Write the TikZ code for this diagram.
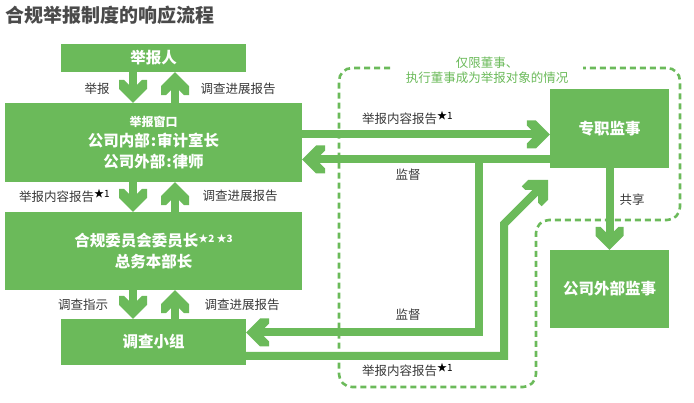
\documentclass[tikz,border=0pt]{standalone}
\usepackage{fontspec}
\setmainfont{Noto Sans CJK SC}
\usetikzlibrary{arrows.meta}
\definecolor{gr}{HTML}{6BBA5A}
\definecolor{tx}{HTML}{383838}
\definecolor{ttl}{HTML}{4A4A4A}
\pgfdeclarearrow{
  name = Chev,
  setup code = {
    \pgfarrowssettipend{0pt}
    \pgfarrowssetlineend{-17pt}
    \pgfarrowssetvisualbackend{-23pt}
    \pgfarrowssetbackend{-23pt}
    \pgfarrowshullpoint{0pt}{0pt}
    \pgfarrowshullpoint{-23pt}{14pt}
    \pgfarrowshullpoint{-23pt}{-14pt}
  },
  drawing code = {
    \pgfpathmoveto{\pgfqpoint{0pt}{0pt}}
    \pgfpathlineto{\pgfqpoint{-14pt}{14pt}}
    \pgfpathlineto{\pgfqpoint{-23pt}{14pt}}
    \pgfpathlineto{\pgfqpoint{-23pt}{9pt}}
    \pgfpathlineto{\pgfqpoint{-18pt}{4pt}}
    \pgfpathlineto{\pgfqpoint{-18pt}{-4pt}}
    \pgfpathlineto{\pgfqpoint{-23pt}{-9pt}}
    \pgfpathlineto{\pgfqpoint{-23pt}{-14pt}}
    \pgfpathlineto{\pgfqpoint{-14pt}{-14pt}}
    \pgfpathclose
    \pgfusepathqfill
  }
}
\newcommand{\stsup}[1]{\raisebox{4pt}{\fontsize{10}{10}\selectfont #1}}
\begin{document}
\begin{tikzpicture}[x=1pt,y=-1pt,
  box/.style={fill=gr, draw=none, text=white, font=\bfseries\fontsize{15.5}{20.5}\selectfont, align=center, inner sep=0pt},
  lbl/.style={text=tx, font=\fontsize{12.5}{14}\selectfont, inner sep=0pt},
  note/.style={text=gr, font=\fontsize{12.5}{15}\selectfont, inner sep=0pt, align=center},
  conn/.style={draw=gr, line width=8pt, -{Chev}, line join=miter},
  zone/.style={draw=gr, line width=2.6pt, dash pattern=on 6pt off 4pt, rounded corners=13pt},
]
\useasboundingbox (0,0) rectangle (694,403);
% title
\node[anchor=west, text=ttl, font=\bfseries\fontsize{19}{22}\selectfont, inner sep=0pt] (title) at (5,15) {合规举报制度的响应流程};
% boxes
\node[box, minimum width=185pt, minimum height=28pt] (B1) at (153.5,58) {举报人};
\node[box, minimum width=297pt, minimum height=79pt] (B2) at (153.5,142.5) {{\fontsize{12}{20.5}\selectfont 举报窗口}\\公司内部\kern1pt:\kern1pt审计室长\\公司外部\kern1pt:\kern1pt律师};
\node[box, minimum width=297pt, minimum height=78pt] (B3) at (153.5,251) {合规委员会委员长\stsup{★2 ★3}\\总务本部长};
\node[box, minimum width=185pt, minimum height=46pt] (B4) at (153.5,342) {调查小组};
\node[box, minimum width=119pt, minimum height=79pt] (S) at (609.5,128.5) {专职监事};
\node[box, minimum width=119pt, minimum height=78pt] (E) at (609.5,289) {公司外部监事};
% dashed zone
\draw[zone] (390,68) -- (339,68) -- (339,387) -- (536,387) -- (536,220) -- (680,220) -- (680,68) -- (583,68);
\node[note] (zn) at (487,70.5) {仅限董事、\\执行董事成为举报对象的情况};
% vertical connectors
\draw[conn] ([xshift=-20.5pt]B1.south) -- ([xshift=-20.5pt]B2.north);
\draw[conn] ([xshift=21.5pt]B2.north) -- ([xshift=21.5pt]B1.south);
\draw[conn] ([xshift=-20.5pt]B2.south) -- ([xshift=-20.5pt]B3.north);
\draw[conn] ([xshift=21.5pt]B3.north) -- ([xshift=21.5pt]B2.south);
\draw[conn] ([xshift=-20.5pt]B3.south) -- ([xshift=-20.5pt]B4.north);
\draw[conn] ([xshift=21.5pt]B4.north) -- ([xshift=21.5pt]B3.south);
\draw[conn] (S.south) -- (E.north);
% right connectors
\coordinate (r1) at (0,134.5);
\coordinate (r2) at (0,159.5);
\coordinate (r3) at (0,332.5);
\coordinate (r4) at (0,356);
\coordinate (j1) at (479,155.5);
\coordinate (k1) at (504,356);
\coordinate (k2) at (504,224);
\coordinate (k3) at (548,180);
\draw[conn] (B2.east |- r1) -- (S.west |- r1);
\draw[conn] (S.west |- r2) -- (B2.east |- r2);
\draw[conn] (j1) |- (B4.east |- r3);
\draw[conn] (B4.east |- r4) -- (k1) -- (k2) -- (k3);
% labels
\node[lbl] (l1) at (97,89) {举报};
\node[lbl] (l2) at (238,89) {调查进展报告};
\node[lbl, anchor=west] (l3) at (19,196) {举报内容报告\textcolor{black}{\stsup{★1}}};
\node[lbl] (l4) at (240,196) {调查进展报告};
\node[lbl] (l5) at (83,305) {调查指示};
\node[lbl] (l6) at (242,305) {调查进展报告};
\node[lbl, anchor=west] (l7) at (362,118) {举报内容报告\textcolor{black}{\stsup{★1}}};
\node[lbl] (l8) at (408,175) {监督};
\node[lbl] (l9) at (408,315) {监督};
\node[lbl, anchor=west] (l10) at (362,370) {举报内容报告\textcolor{black}{\stsup{★1}}};
\node[lbl] (l11) at (632,200) {共享};
\end{tikzpicture}
\end{document}
